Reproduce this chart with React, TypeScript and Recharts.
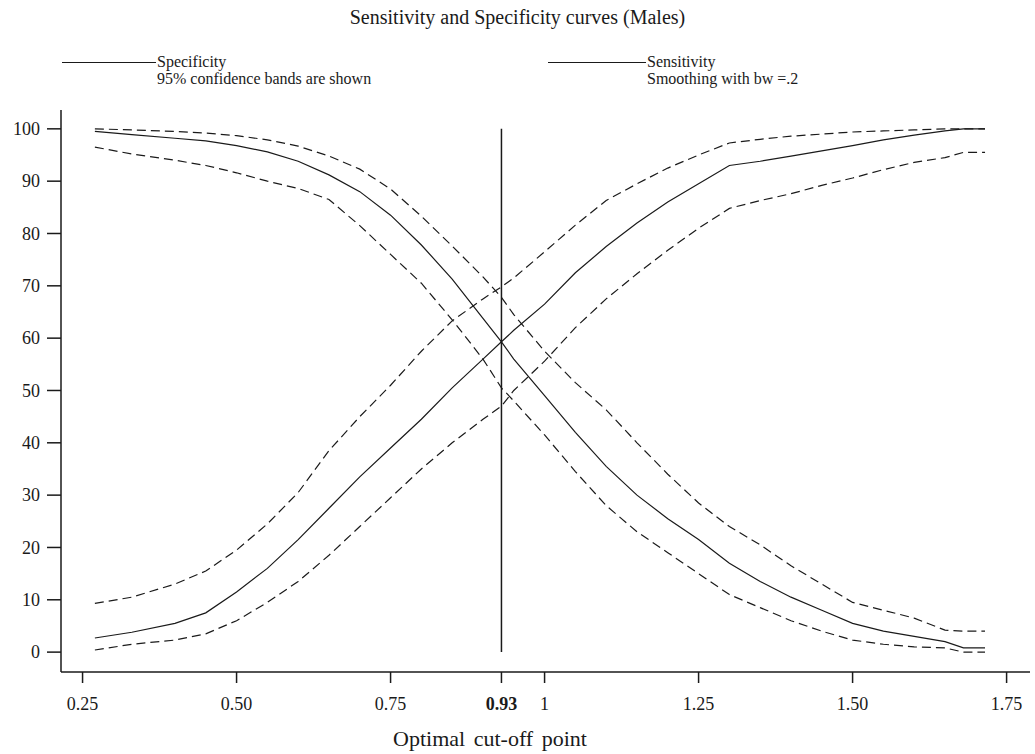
import { LineChart, Line, XAxis, YAxis, ReferenceLine } from 'recharts'

// cut-off values where curves are sampled
const CUTOFFS = [0.27, 0.33, 0.4, 0.45, 0.5, 0.55, 0.6, 0.65, 0.7, 0.75, 0.8, 0.85, 0.9, 0.93, 0.95, 1.0, 1.05, 1.1, 1.15, 1.2, 1.25, 1.3, 1.35, 1.4, 1.45, 1.5, 1.55, 1.6, 1.65, 1.68, 1.715]

const SPEC = [99.5, 98.9, 98.2, 97.7, 96.8, 95.6, 93.8, 91.2, 88.0, 83.5, 77.8, 71.3, 63.8, 59.3, 56.0, 49.0, 42.0, 35.5, 30.0, 25.5, 21.5, 17.0, 13.5, 10.5, 8.0, 5.5, 4.0, 3.0, 2.0, 0.8, 0.8]
const SPEC_HI = [100, 99.8, 99.5, 99.2, 98.7, 97.9, 96.7, 94.8, 92.3, 88.5, 83.3, 77.6, 71.7, 67.8, 64.5, 57.5, 51.5, 46.3, 40.0, 34.0, 28.5, 24.0, 20.5, 16.5, 13.0, 9.5, 8.0, 6.5, 4.2, 4.0, 4.0]
const SPEC_LO = [96.5, 95.2, 94.0, 93.0, 91.6, 90.0, 88.6, 86.5, 81.5, 76.0, 70.5, 63.5, 56.0, 50.5, 48.0, 41.5, 34.5, 28.0, 23.0, 19.0, 15.0, 11.0, 8.5, 6.0, 4.0, 2.3, 1.5, 1.0, 0.8, 0, 0]

const SENS = [2.7, 3.8, 5.5, 7.5, 11.5, 16.0, 21.5, 27.5, 33.5, 39.0, 44.5, 50.5, 56.0, 59.3, 61.5, 66.5, 72.5, 77.5, 82.0, 86.0, 89.5, 93.0, 93.8, 94.8, 95.8, 96.8, 97.9, 98.8, 99.6, 100, 100]
const SENS_HI = [9.3, 10.5, 13.0, 15.5, 19.5, 24.5, 30.5, 38.5, 45.0, 51.0, 57.5, 63.3, 67.5, 69.8, 71.5, 76.5, 81.6, 86.3, 89.5, 92.5, 95.0, 97.3, 98.0, 98.6, 99.0, 99.4, 99.6, 99.8, 100, 100, 100]
const SENS_LO = [0.4, 1.5, 2.3, 3.5, 6.0, 9.5, 13.5, 18.5, 24.0, 29.5, 35.0, 40.0, 44.5, 47.0, 50.0, 55.6, 62.0, 67.5, 72.3, 76.8, 81.0, 84.8, 86.3, 87.6, 89.2, 90.6, 92.2, 93.6, 94.5, 95.5, 95.5]

const X_TICKS = [0.25, 0.5, 0.75, 0.93, 1, 1.25, 1.5, 1.75]
const X_LABELS = ['0.25', '0.50', '0.75', '0.93', '1', '1.25', '1.50', '1.75']
const Y_TICKS = [0, 10, 20, 30, 40, 50, 60, 70, 80, 90, 100]
const OPTIMAL = 0.93

const rows = CUTOFFS.map((x, i) => ({
    x,
    spec: SPEC[i], specHi: SPEC_HI[i], specLo: SPEC_LO[i],
    sens: SENS[i], sensHi: SENS_HI[i], sensLo: SENS_LO[i],
}))

const FONT = '"Liberation Serif", "DejaVu Serif", serif'
const INK = '#1a1a1a'
const DASH = '9 5'

const XTick = ({ x, y, payload }: any) => {
    const i = X_TICKS.indexOf(payload.value)
    const bold = payload.value === OPTIMAL
    return (
        <text x={x} y={y} dy="0.71em" textAnchor="middle" fontFamily={FONT} fontSize={18}
            fontWeight={bold ? 'bold' : 'normal'} fill={INK}>
            {i >= 0 ? X_LABELS[i] : payload.value}
        </text>
    )
}

const YTick = ({ x, y, payload }: any) => (
    <text x={x} y={y} dy="0.35em" textAnchor="end" fontFamily={FONT} fontSize={18} fill={INK}>
        {payload.value}
    </text>
)

export default function App() {
    return (
        <div style={{ position: 'absolute', left: 0, top: 0, width: 1035, height: 754, background: '#fff', fontFamily: FONT, color: INK }}>
            <div style={{ position: 'absolute', left: 0, width: 1035, top: 6, textAlign: 'center', fontSize: 20 }}>
                Sensitivity and Specificity curves (Males)
            </div>

            <div style={{ position: 'absolute', left: 62, top: 62, width: 94, borderTop: `1px solid ${INK}` }} />
            <div style={{ position: 'absolute', left: 157, top: 53, fontSize: 16, lineHeight: '17px' }}>
                Specificity<br />95% confidence bands are shown
            </div>
            <div style={{ position: 'absolute', left: 548, top: 62, width: 98, borderTop: `1px solid ${INK}` }} />
            <div style={{ position: 'absolute', left: 647, top: 53, fontSize: 16, lineHeight: '17px' }}>
                Sensitivity<br />Smoothing with bw =.2
            </div>

            <LineChart width={1035} height={754} data={rows} margin={{ top: 110, right: 5, bottom: 0, left: 11 }}>
                <XAxis dataKey="x" type="number" domain={[0.215, 1.788]} ticks={X_TICKS} allowDataOverflow
                    height={82} tickSize={11} tickMargin={14} tick={<XTick />}
                    stroke={INK} axisLine={{ stroke: INK, strokeWidth: 1.5 }} tickLine={{ stroke: INK, strokeWidth: 1.5 }} />
                <YAxis type="number" domain={[-3.8, 103.6]} ticks={Y_TICKS} allowDataOverflow
                    width={50} tickSize={14} tickMargin={7} tick={<YTick />}
                    stroke={INK} axisLine={{ stroke: INK, strokeWidth: 1.5 }} tickLine={{ stroke: INK, strokeWidth: 1.5 }} />
                <ReferenceLine segment={[{ x: OPTIMAL, y: 0 }, { x: OPTIMAL, y: 100 }]} stroke={INK} strokeWidth={1.5} ifOverflow="extendDomain" />
                <Line dataKey="specHi" type="linear" stroke={INK} strokeWidth={1.2} strokeDasharray={DASH} dot={false} isAnimationActive={false} />
                <Line dataKey="spec" type="linear" stroke={INK} strokeWidth={1.2} dot={false} isAnimationActive={false} />
                <Line dataKey="specLo" type="linear" stroke={INK} strokeWidth={1.2} strokeDasharray={DASH} dot={false} isAnimationActive={false} />
                <Line dataKey="sensHi" type="linear" stroke={INK} strokeWidth={1.2} strokeDasharray={DASH} dot={false} isAnimationActive={false} />
                <Line dataKey="sens" type="linear" stroke={INK} strokeWidth={1.2} dot={false} isAnimationActive={false} />
                <Line dataKey="sensLo" type="linear" stroke={INK} strokeWidth={1.2} strokeDasharray={DASH} dot={false} isAnimationActive={false} />
            </LineChart>

            <div style={{ position: 'absolute', left: 0, width: 980, top: 726, textAlign: 'center', fontSize: 22, wordSpacing: 3 }}>
                Optimal cut-off point
            </div>
        </div>
    )
}
